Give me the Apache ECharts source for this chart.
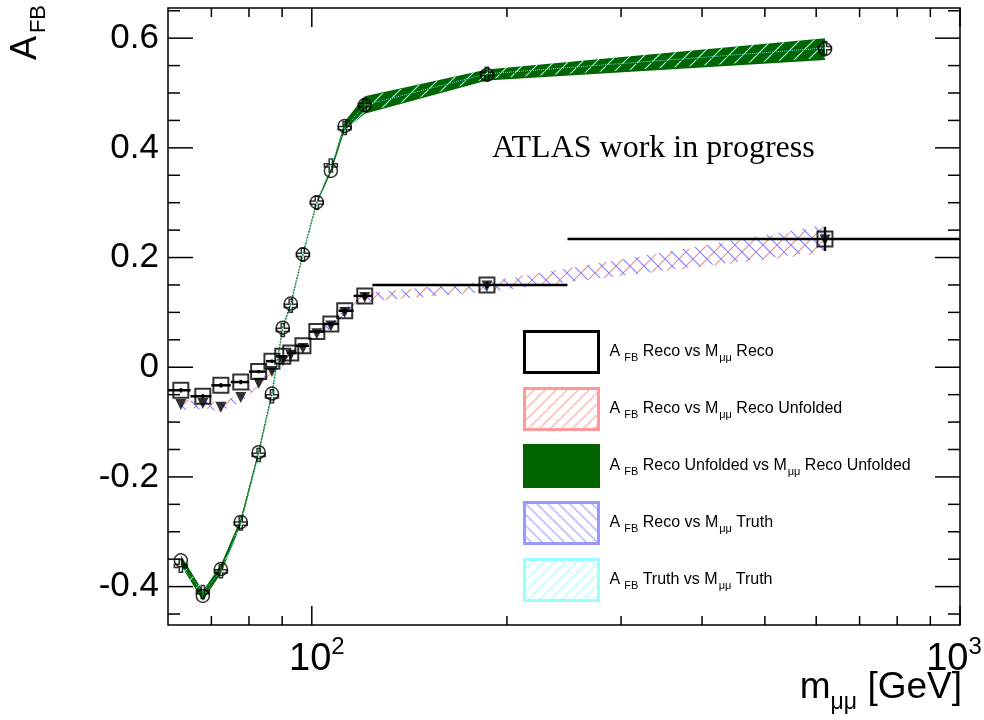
<!DOCTYPE html>
<html>
<head>
<meta charset="utf-8">
<script src="https://cdn.jsdelivr.net/npm/echarts@6/dist/echarts.min.js"></script>
<style>
html, body { margin: 0; padding: 0; background: #fff; }
#main { width: 984px; height: 720px; }
</style>
</head>
<body>
<div id="main"></div>
<script>
// mass bins (GeV): mean mass of each bin and its edges
var massPoints = [62.8, 67.9, 72.4, 77.7, 82.8, 86.8, 90.2, 92.8, 96.9, 101.8, 107.0, 112.4, 120.7, 186.3, 619];
var binLow  = [60, 65, 70, 75, 80, 85, 88, 91.5, 94.5, 99, 104.5, 110, 116, 124, 248];
var binHigh = [65, 70, 75, 80, 85, 88, 91.5, 94.5, 99, 104.5, 110, 116, 124, 248, 1000];

// A_FB Reco vs M Reco (open squares)
var recoReco    = [-0.042, -0.053, -0.033, -0.027, -0.008, 0.011, 0.020, 0.026, 0.039, 0.065, 0.079, 0.103, 0.130, 0.150, 0.234];
var recoRecoErr = [0.004, 0.004, 0.004, 0.004, 0.003, 0.003, 0.002, 0.002, 0.003, 0.003, 0.004, 0.005, 0.006, 0.006, 0.022];
// A_FB Reco vs M Reco Unfolded (filled triangles, pink hatch)
var recoUnf    = [-0.068, -0.066, -0.073, -0.055, -0.029, -0.008, 0.012, 0.022, 0.034, 0.061, 0.075, 0.100, 0.127, 0.148, 0.232];
var recoUnfErr = [0.008, 0.008, 0.008, 0.007, 0.006, 0.004, 0.003, 0.003, 0.003, 0.004, 0.005, 0.006, 0.008, 0.009, 0.024];
// A_FB Reco vs M Truth (blue hatch)
var recoTruth    = [-0.070, -0.068, -0.072, -0.057, -0.030, -0.006, 0.012, 0.023, 0.036, 0.063, 0.076, 0.101, 0.128, 0.146, 0.236];
var recoTruthErr = [0.008, 0.008, 0.008, 0.007, 0.006, 0.004, 0.003, 0.003, 0.003, 0.004, 0.005, 0.006, 0.008, 0.009, 0.024];
// A_FB Reco Unfolded vs M Reco Unfolded (open circles, green band)
var unfUnf    = [-0.352, -0.417, -0.368, -0.282, -0.155, -0.048, 0.072, 0.116, 0.206, 0.301, 0.358, 0.440, 0.478, 0.533, 0.580];
var unfUnfErr = [0.009, 0.009, 0.008, 0.006, 0.003, 0.0015, 0.001, 0.001, 0.001, 0.002, 0.003, 0.008, 0.016, 0.010, 0.020];
// A_FB Truth vs M Truth (open crosses, cyan hatch)
var truthTruth    = [-0.362, -0.410, -0.372, -0.285, -0.160, -0.053, 0.068, 0.112, 0.205, 0.300, 0.368, 0.436, 0.478, 0.535, 0.582];
var truthTruthErr = [0.007, 0.007, 0.006, 0.005, 0.002, 0.0015, 0.001, 0.001, 0.001, 0.002, 0.003, 0.007, 0.014, 0.009, 0.018];

// ticks
var xTicks = [70, 80, 90, 100, 200, 300, 400, 500, 600, 700, 800, 900, 1000];
var yTicks = [-0.45, -0.4, -0.35, -0.3, -0.25, -0.2, -0.15, -0.1, -0.05, 0, 0.05, 0.1, 0.15, 0.2, 0.25, 0.3, 0.35, 0.4, 0.45, 0.5, 0.55, 0.6, 0.65];

var legendText = {
  recoReco: '{f|A}{b|FB}{a| Reco vs M}{s|μμ}{a| Reco}',
  recoUnf: '{f|A}{b|FB}{a| Reco vs M}{s|μμ}{a| Reco Unfolded}',
  unfUnf: '{f|A}{b|FB}{a| Reco Unfolded vs M}{s|μμ}{a| Reco Unfolded}',
  recoTruth: '{f|A}{b|FB}{a| Reco vs M}{s|μμ}{a| Truth}',
  truthTruth: '{f|A}{b|FB}{a| Truth vs M}{s|μμ}{a| Truth}'
};

var FONT = '"Liberation Sans", Arial, sans-serif';
var GREEN = '#006400';

function hatch(color, dir, n) {
  var c = document.createElement('canvas');
  c.width = n; c.height = n;
  var g = c.getContext('2d');
  g.strokeStyle = color;
  g.lineWidth = 1.1;
  g.beginPath();
  if (dir > 0) {
    g.moveTo(-1, n + 1); g.lineTo(n + 1, -1);
    g.moveTo(-1, 1); g.lineTo(1, -1);
    g.moveTo(n - 1, n + 1); g.lineTo(n + 1, n - 1);
  } else {
    g.moveTo(-1, -1); g.lineTo(n + 1, n + 1);
    g.moveTo(n - 1, -1); g.lineTo(n + 1, 1);
    g.moveTo(-1, n - 1); g.lineTo(1, n + 1);
  }
  g.stroke();
  return { image: c, repeat: 'repeat' };
}

var pinkBand = hatch('#ff8080', 1, 14);
var blueBand = hatch('#8080ff', -1, 14);
var cyanBand = hatch('#99ffff', 1, 14);
var pinkIcon = hatch('#ff9999', 1, 11);
var blueIcon = hatch('#9999ff', -1, 11);
var cyanIcon = hatch('#99ffff', 1, 11);

function band(name, center, err, fill, z) {
  return {
    type: 'custom', name: name, z: z, clip: true, silent: true,
    data: massPoints.map(function (m, i) { return [m, center[i], err[i]]; }),
    renderItem: function (params, api) {
      if (params.dataIndex !== 0) return null;
      var up = [], dn = [];
      for (var i = 0; i < massPoints.length; i++) {
        up.push(api.coord([massPoints[i], center[i] + err[i]]));
        dn.unshift(api.coord([massPoints[i], center[i] - err[i]]));
      }
      return { type: 'polygon', shape: { points: up.concat(dn) }, style: { fill: fill } };
    }
  };
}

function pts(vals) {
  return massPoints.map(function (m, i) { return [m, vals[i]]; });
}

function seg(x1, y1, x2, y2, w) {
  return { type: 'line', shape: { x1: x1, y1: y1, x2: x2, y2: y2 }, style: { stroke: '#000', lineWidth: w } };
}

function ticks(values, isX) {
  return {
    type: 'custom', silent: true, z: 20, clip: false,
    data: values.map(function (v) { return isX ? [v, 0] : [100, v]; }),
    renderItem: function (params, api) {
      var cs = params.coordSys;
      var p = api.coord([api.value(0), api.value(1)]);
      var major, L;
      if (isX) {
        var lg = Math.log10(api.value(0));
        major = Math.abs(lg - Math.round(lg)) < 1e-6;
        L = major ? 19 : 9;
        return { type: 'group', children: [
          seg(p[0], cs.y + cs.height, p[0], cs.y + cs.height - L, 1.5),
          seg(p[0], cs.y, p[0], cs.y + L, 1.5)
        ] };
      }
      var v = api.value(1) / 0.2;
      major = Math.abs(v - Math.round(v)) < 1e-6;
      L = major ? 25 : 12;
      return { type: 'group', children: [
        seg(cs.x, p[1], cs.x + L, p[1], 1.5),
        seg(cs.x + cs.width, p[1], cs.x + cs.width - L, p[1], 1.5)
      ] };
    }
  };
}

var plusPath = 'path://M3,0 L5,0 L5,3 L8,3 L8,5 L5,5 L5,8 L3,8 L3,5 L0,5 L0,3 L3,3 Z';
var hollow = 'rgba(0,0,0,0)';

var legendRich = {
  f: { fontFamily: FONT, fontSize: 16, color: '#000', lineHeight: 17, verticalAlign: 'top', padding: [0, 0, 0, 6] },
  a: { fontFamily: FONT, fontSize: 16, color: '#000', lineHeight: 17, verticalAlign: 'top' },
  b: { fontFamily: FONT, fontSize: 11, color: '#000', lineHeight: 11, verticalAlign: 'top', padding: [9, 0, 0, 4] },
  s: { fontFamily: FONT, fontSize: 11, color: '#000', lineHeight: 11, verticalAlign: 'top', padding: [9, 0, 0, 1] }
};

var chart = echarts.init(document.getElementById('main'));
chart.setOption({
  animation: false,
  backgroundColor: '#fff',
  grid: { left: 168, right: 24, top: 8, bottom: 95, show: true, borderColor: '#000', borderWidth: 1.5,
    backgroundColor: '#fff', containLabel: false, outerBoundsMode: 'none' },
  xAxis: {
    type: 'log', logBase: 10, min: 60, max: 1000,
    axisLine: { show: false }, axisTick: { show: false }, splitLine: { show: false },
    axisLabel: {
      showMinLabel: false, margin: 10, fontFamily: FONT, fontSize: 38, color: '#000',
      formatter: function (v) {
        var e = Math.round(Math.log10(v));
        if (e === 2) return '{p|10}{e|2}';
        if (e === 3) return '{m|10}{q|3}';
        return '';
      },
      rich: {
        p: { fontFamily: FONT, fontSize: 38, color: '#000', lineHeight: 44, verticalAlign: 'bottom', padding: [0, 0, 0, 10] },
        m: { fontFamily: FONT, fontSize: 38, color: '#000', lineHeight: 44, verticalAlign: 'bottom' },
        e: { fontFamily: FONT, fontSize: 24, color: '#000', lineHeight: 24, verticalAlign: 'top' },
        q: { fontFamily: FONT, fontSize: 24, color: '#000', lineHeight: 24, verticalAlign: 'top', padding: [0, 12, 0, 0] }
      }
    }
  },
  yAxis: {
    type: 'value', min: -0.47, max: 0.655, splitNumber: 5,
    axisLine: { show: false }, axisTick: { show: false }, splitLine: { show: false },
    axisLabel: {
      showMinLabel: false, showMaxLabel: false, margin: 9, fontFamily: FONT, fontSize: 35, color: '#000',
      formatter: function (v) { return Math.abs(v) < 1e-9 ? '0' : v.toFixed(1); }
    }
  },
  legend: {
    orient: 'vertical', left: 518, top: 325, itemWidth: 74, itemHeight: 41, itemGap: 13,
    selectedMode: false,
    formatter: function (name) { return legendText[name]; },
    textStyle: { fontFamily: FONT, fontSize: 16, color: '#000', rich: legendRich },
    data: [
      { name: 'recoReco', icon: 'rect', itemStyle: { color: '#fff', borderColor: '#000', borderWidth: 3 } },
      { name: 'recoUnf', icon: 'rect', itemStyle: { color: pinkIcon, borderColor: '#ff9999', borderWidth: 3 } },
      { name: 'unfUnf', icon: 'rect', itemStyle: { color: GREEN, borderColor: GREEN, borderWidth: 3 } },
      { name: 'recoTruth', icon: 'rect', itemStyle: { color: blueIcon, borderColor: '#9999ff', borderWidth: 3 } },
      { name: 'truthTruth', icon: 'rect', itemStyle: { color: cyanIcon, borderColor: '#99ffff', borderWidth: 3 } }
    ]
  },
  graphic: [
    { type: 'text', left: 492, top: 133, z: 30,
      style: { text: 'ATLAS work in progress', fill: '#000', font: '32px "Liberation Serif", "Times New Roman", serif' } },
    { type: 'text', x: 27, y: 5, rotation: Math.PI / 2, z: 30,
      style: {
        text: '{a|A}{s|FB}', align: 'right', verticalAlign: 'middle',
        rich: {
          a: { fontFamily: FONT, fontSize: 36, fill: '#000', lineHeight: 37, verticalAlign: 'top' },
          s: { fontFamily: FONT, fontSize: 22, fill: '#000', lineHeight: 22, verticalAlign: 'top', padding: [19, 0, 0, 3] }
        }
      } },
    { type: 'text', right: 22, top: 669, z: 30,
      style: {
        text: '{a|m}{s|μμ}{a| [GeV]}',
        rich: {
          a: { fontFamily: FONT, fontSize: 37, fill: '#000', lineHeight: 39, verticalAlign: 'top' },
          s: { fontFamily: FONT, fontSize: 23, fill: '#000', lineHeight: 23, verticalAlign: 'top', padding: [22, 0, 0, 0] }
        }
      } }
  ],
  series: [
    band('recoUnf', recoUnf, recoUnfErr, pinkBand, 1),
    band('recoTruth', recoTruth, recoTruthErr, blueBand, 1),
    band('unfUnf', unfUnf, unfUnfErr, GREEN, 2),
    band('truthTruth', truthTruth, truthTruthErr, cyanBand, 3),
    { type: 'line', name: 'unfUnf', data: pts(unfUnf), z: 3, symbol: 'none', silent: true,
      lineStyle: { color: GREEN, width: 1.5, type: 'dotted' } },
    { type: 'line', name: 'truthTruth', data: pts(truthTruth), z: 3, symbol: 'none', silent: true,
      lineStyle: { color: '#66dddd', width: 1, type: 'dotted' } },
    {
      type: 'custom', name: 'recoReco', z: 5, silent: true,
      data: massPoints.map(function (m, i) { return [m, recoReco[i], binLow[i], binHigh[i], recoRecoErr[i]]; }),
      renderItem: function (params, api) {
        var y = api.value(1), e = api.value(4);
        var a = api.coord([api.value(2), y]), b = api.coord([api.value(3), y]);
        var c = api.coord([api.value(0), y + e]), d = api.coord([api.value(0), y - e]);
        return { type: 'group', children: [seg(a[0], a[1], b[0], b[1], 2.5), seg(c[0], c[1], d[0], d[1], 2.5)] };
      }
    },
    { type: 'scatter', name: 'recoReco', data: pts(recoReco), z: 6, symbol: 'rect', symbolSize: 15, silent: true,
      itemStyle: { color: hollow, borderColor: '#000', borderWidth: 2 } },
    { type: 'scatter', name: 'recoUnf', data: pts(recoUnf), z: 7, symbol: 'triangle', symbolRotate: 180, symbolSize: 11, silent: true,
      itemStyle: { color: '#000' } },
    { type: 'scatter', name: 'unfUnf', data: pts(unfUnf), z: 7, symbol: 'circle', symbolSize: 13, silent: true,
      itemStyle: { color: hollow, borderColor: '#000', borderWidth: 1.5 } },
    { type: 'scatter', name: 'truthTruth', data: pts(truthTruth), z: 8, symbol: plusPath, symbolSize: 13, silent: true,
      itemStyle: { color: hollow, borderColor: '#000', borderWidth: 1.5 } },
    ticks(xTicks, true),
    ticks(yTicks, false)
  ]
});
</script>
</body>
</html>
